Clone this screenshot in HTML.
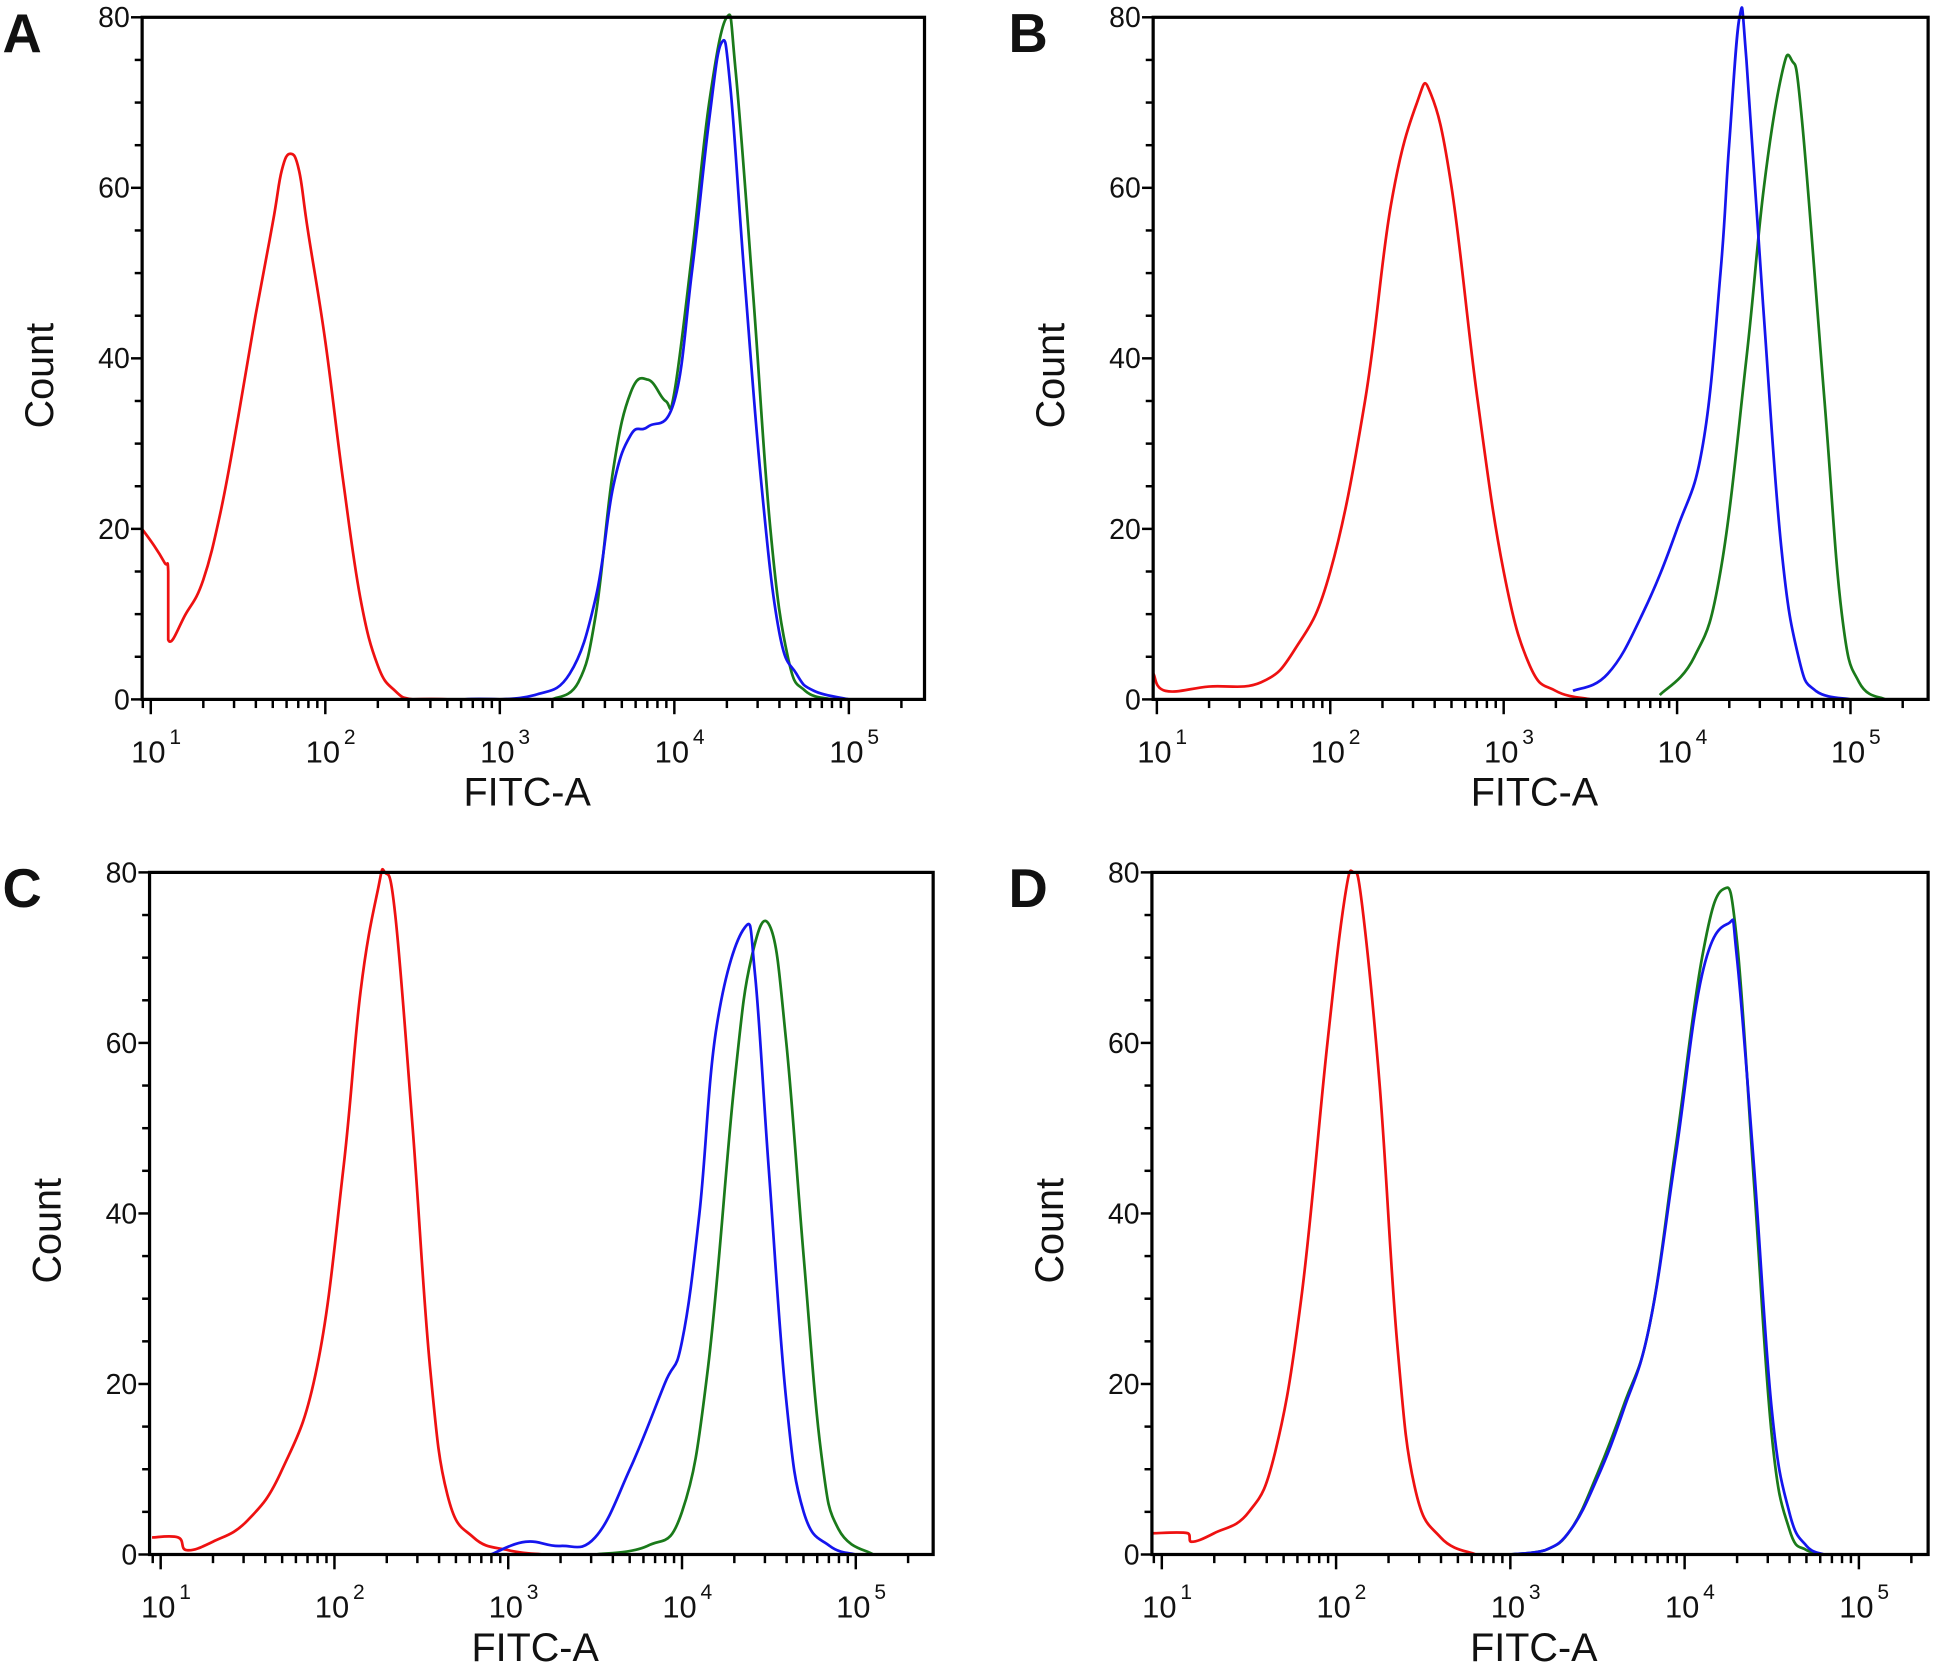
<!DOCTYPE html>
<html><head><meta charset="utf-8"><style>
html,body{margin:0;padding:0;background:#fff}
svg{display:block}
text{font-family:"Liberation Sans",Arial,sans-serif;fill:#111}
</style></head><body>
<svg id="fig" width="1938" height="1662" viewBox="0 0 1568 1345" preserveAspectRatio="none" xmlns="http://www.w3.org/2000/svg"></svg>
<script>
// Panel layouts (log10 of FITC-A is x, count is y)
const panelLabels = ["A","B","C","D"];
const yTicks = [0,20,40,60,80];
const xDecades = [1,2,3,4,5];
// Series data: [log10 FITC-A] and [count]
const aRedX = [0.95,1.02,1.08,1.1,1.1,1.2,1.3,1.4,1.5,1.6,1.7,1.75,1.8,1.85,1.9,2.0,2.1,2.2,2.3,2.4,2.5,2.7];
const aRedY = [20,18,16,15,7,10,14,22,33,45,56,62,64,62,55,42,26,12,4,1,0,0];
const aBlueX = [2.8,3.0,3.2,3.4,3.55,3.65,3.75,3.85,4.0,4.1,4.2,4.27,4.32,4.4,4.5,4.6,4.7,4.8,5.0];
const aBlueY = [0,0,0.5,3,12,25,31,32,35,50,68,77,72,50,25,8,3,1,0];
const aGreenX = [3.3,3.45,3.55,3.65,3.75,3.85,3.95,4.0,4.1,4.2,4.3,4.35,4.45,4.55,4.65,4.75,4.9];
const aGreenY = [0,2,10,27,36,37.5,35,36,52,70,80,74,48,20,5,1,0];
const bRedX = [0.98,1.05,1.3,1.6,1.8,2.0,2.2,2.35,2.5,2.58,2.7,2.85,3.0,3.15,3.3,3.5];
const bRedY = [3,1,1.5,2,6,15,35,58,70,71,60,35,15,4,1,0];
const bBlueX = [3.4,3.6,3.8,4.0,4.15,4.25,4.3,4.36,4.4,4.5,4.6,4.7,4.8,5.0];
const bBlueY = [1,3,10,20,30,50,65,80,75,45,18,5,1,0];
const bGreenX = [3.9,4.1,4.25,4.4,4.5,4.6,4.66,4.72,4.85,4.95,5.05,5.2];
const bGreenY = [0.5,5,15,40,60,73,75,68,35,10,2,0];
const cRedX = [0.95,1.1,1.15,1.3,1.5,1.7,1.9,2.05,2.15,2.25,2.29,2.35,2.45,2.55,2.65,2.8,3.0,3.2];
const cRedY = [2,2,0.5,1.5,4,10,22,45,66,78,80,75,50,22,7,2,0.5,0];
const cBlueX = [2.9,3.1,3.3,3.5,3.7,3.9,4.0,4.1,4.2,4.36,4.42,4.5,4.6,4.7,4.85,5.0];
const cBlueY = [0,1.5,1,2,10,20,25,40,62,73.5,68,45,18,5,1,0];
const cGreenX = [3.5,3.8,4.0,4.15,4.3,4.4,4.51,4.6,4.7,4.8,4.9,5.1];
const cGreenY = [0,1,5,22,55,70,73.5,60,35,12,3,0];
const dRedX = [0.95,1.15,1.17,1.3,1.5,1.65,1.8,1.95,2.05,2.1,2.15,2.25,2.35,2.45,2.6,2.8];
const dRedY = [2.5,2.5,1.5,2.5,5,12,30,60,77,80,76,55,25,8,2,0];
const dBlueX = [3.0,3.2,3.35,3.5,3.65,3.8,3.95,4.1,4.25,4.3,4.4,4.5,4.6,4.7,4.8];
const dBlueY = [0,0.5,3,9,17,27,47,68,74,70,45,17,5,1,0];
const dGreenX = [3.0,3.2,3.35,3.5,3.65,3.8,3.95,4.1,4.22,4.3,4.4,4.5,4.6,4.7,4.8];
const dGreenY = [0,0.5,3,9.5,17.5,27,48,70,78,72,43,14,3,0.5,0];

const panels = [
 {L:115,R:748,T:14,B:566,x1:122,dec:141.2,lx:2,ly:42, series:[[aRedX,aRedY,"#ee1111","red"],[aGreenX,aGreenY,"#1a7a1a","green"],[aBlueX,aBlueY,"#1515ee","blue"]]},
 {L:933,R:1560,T:14,B:566,x1:936,dec:140.3,lx:816,ly:42, series:[[bRedX,bRedY,"#ee1111","red"],[bGreenX,bGreenY,"#1a7a1a","green"],[bBlueX,bBlueY,"#1515ee","blue"]]},
 {L:121,R:755,T:706,B:1258,x1:130,dec:140.6,lx:2,ly:734, series:[[cRedX,cRedY,"#ee1111","red"],[cGreenX,cGreenY,"#1a7a1a","green"],[cBlueX,cBlueY,"#1515ee","blue"]]},
 {L:932,R:1560,T:706,B:1258,x1:940,dec:141,lx:816,ly:734, series:[[dRedX,dRedY,"#ee1111","red"],[dGreenX,dGreenY,"#1a7a1a","green"],[dBlueX,dBlueY,"#1515ee","blue"]]}
];
const NS="http://www.w3.org/2000/svg";
const svg=document.getElementById('fig');
function mk(tag,attrs,parent){const e=document.createElementNS(NS,tag);for(const k in attrs)e.setAttribute(k,attrs[k]);parent.appendChild(e);return e;}
function smoothPath(P,yMax){
  let d='M'+P[0][0].toFixed(1)+','+P[0][1].toFixed(1);
  for(let i=0;i<P.length-1;i++){
    const p0=P[Math.max(i-1,0)],p1=P[i],p2=P[i+1],p3=P[Math.min(i+2,P.length-1)];
    if(Math.abs(p1[0]-p2[0])<0.01){d+=' L'+p2[0].toFixed(1)+','+p2[1].toFixed(1);continue;}
    const t=0.2;
    let c1x=p1[0]+(p2[0]-p0[0])*t, c1y=p1[1]+(p2[1]-p0[1])*t;
    let c2x=p2[0]-(p3[0]-p1[0])*t, c2y=p2[1]-(p3[1]-p1[1])*t;
    c1x=Math.min(Math.max(c1x,p1[0]),p2[0]); c2x=Math.min(Math.max(c2x,p1[0]),p2[0]);
    c1y=Math.min(c1y,yMax); c2y=Math.min(c2y,yMax);
    d+=' C'+c1x.toFixed(1)+','+c1y.toFixed(1)+' '+c2x.toFixed(1)+','+c2y.toFixed(1)+' '+p2[0].toFixed(1)+','+p2[1].toFixed(1);
  }
  return d;
}
panels.forEach((p,i)=>{
  const g=mk('g',{},svg);
  
  
  const xs=v=>p.x1+(v-1)*p.dec;
  const ys=v=>p.B-(v/80)*(p.B-p.T);
  const lab=mk('text',{x:p.lx,y:p.ly,'font-size':44,'font-weight':'bold'},g);
  lab.textContent=panelLabels[i];
  
  
  p.series.forEach(s=>{
    const P=s[0].map((x,k)=>[xs(Math.max(x,0.95)),ys(s[1][k])]);
    const pl=mk('path',{d:smoothPath(P,p.B-0.5),fill:'none',stroke:s[2],'stroke-width':2.2,'stroke-linejoin':'round'},g);
    
    
  });
  const fr=mk('rect',{x:p.L,y:p.T,width:p.R-p.L,height:p.B-p.T,fill:'none',stroke:'#000','stroke-width':2.6},g);
  
  
  for(let v=0;v<=80;v+=5){
    const maj=v%20===0;
    mk('line',{x1:p.L-(maj?9:6),x2:p.L,y1:ys(v),y2:ys(v),stroke:'#000','stroke-width':2},g);
  }
  yTicks.forEach(v=>{
    const t=mk('text',{x:p.L-10,y:ys(v)+8,'font-size':23,'text-anchor':'end'},g);
    t.textContent=v;
    
    
  });
  for(let d=0;d<=5;d++){
    for(let m=1;m<=9;m++){
      const lv=d+Math.log10(m);
      const x=xs(lv);
      if(x<p.L||x>p.R) continue;
      mk('line',{x1:x,x2:x,y1:p.B,y2:p.B+(m===1?12:7),stroke:'#000','stroke-width':2},g);
    }
  }
  xDecades.forEach(d=>{
    const t=mk('text',{x:xs(d)-2,y:p.B+51,'font-size':25,'text-anchor':'middle'},g);
    t.textContent='10';
    
    
    const s=mk('text',{x:xs(d)+15,y:p.B+36,'font-size':17,'text-anchor':'start'},g);
    s.textContent=String(d);
    
    
  });
  const xt=mk('text',{x:(p.L+p.R)/2-5,y:p.B+86,'font-size':32,'text-anchor':'middle'},g);
  xt.textContent='FITC-A';
  
  
  const cy=(p.T+p.B)/2+14;
  const yt=mk('text',{x:p.L-72,y:cy,'font-size':32,'text-anchor':'middle',transform:`rotate(-90 ${p.L-72} ${cy})`},g);
  yt.textContent='Count';
  
  
});
</script>
</body></html>
